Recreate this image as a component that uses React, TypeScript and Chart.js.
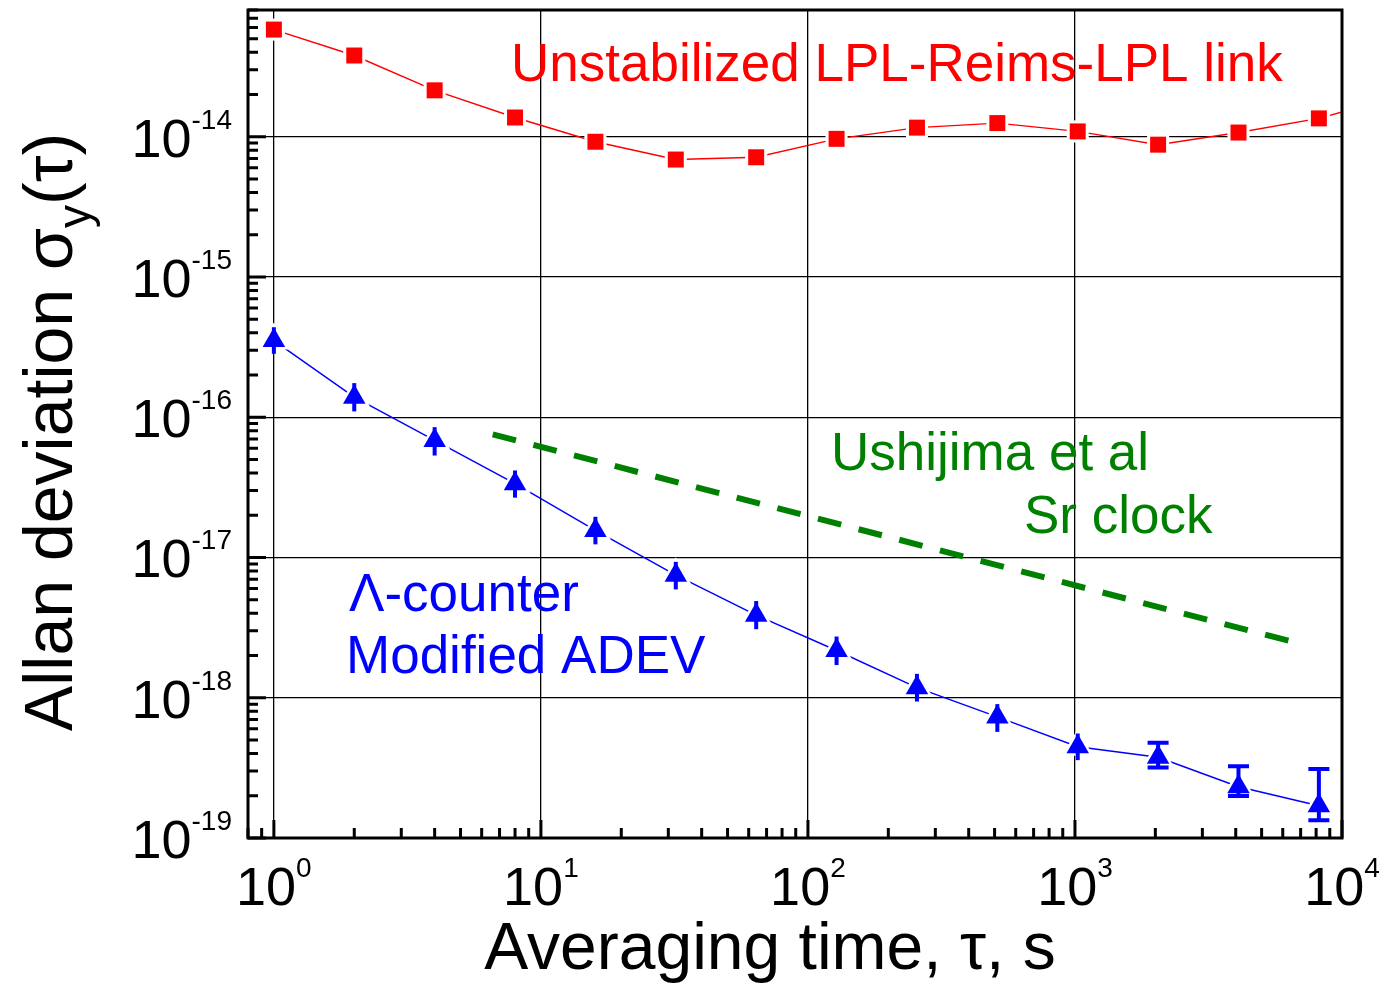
import React, { useEffect, useRef } from 'react';
import { Chart, registerables } from 'chart.js';

Chart.register(...registerables);

// ---- data ----
const tauBlue = [1, 2, 4, 8, 16, 32, 64, 128, 256, 512, 1024, 2048, 4096, 8192];
const tauRed = [1, 2, 4, 8, 16, 32, 64, 128, 256, 512, 1024, 2048, 4096, 8192, 16384];
const redAdev = [5.8e-14, 3.79e-14, 2.14e-14, 1.37e-14, 9.2e-15, 6.87e-15, 7.13e-15, 9.65e-15, 1.16e-14, 1.25e-14, 1.09e-14, 8.77e-15, 1.07e-14, 1.35e-14, 1.95e-14];
const blueMdev = [3.52e-16, 1.39e-16, 6.83e-17, 3.36e-17, 1.56e-17, 7.48e-18, 3.88e-18, 2.17e-18, 1.18e-18, 7.3e-19, 4.47e-19, 3.76e-19, 2.32e-19, 1.7e-19];
const blueErrHigh = [4.38e-16, 1.75e-16, 8.49e-17, 4.17e-17, 1.95e-17, 9.3e-18, 4.89e-18, 2.73e-18, 1.48e-18, 9.0e-19, 5.56e-19, 4.77e-19, 3.25e-19, 3.1e-19];
const blueErrLow = [2.83e-16, 1.1e-16, 5.33e-17, 2.67e-17, 1.24e-17, 5.92e-18, 3.08e-18, 1.71e-18, 9.4e-19, 5.71e-19, 3.59e-19, 3.18e-19, 1.99e-19, 1.34e-19];
const blueErrCapped = [false, false, false, false, false, false, false, false, false, false, false, true, true, true];
const srTau = [6.6, 6300];
const srAdev = [7.55e-17, 2.55e-18];

const xDecades = [0, 1, 2, 3, 4];
const yDecades = [-19, -18, -17, -16, -15, -14];
const X_MIN = 0.8;
const X_MAX = 1e4;
const Y_MIN = 1e-19;
const Y_MAX = 8e-14;

const FONT = '"Liberation Sans", Arial, Helvetica, sans-serif';
const RED = '#ff0000';
const BLUE = '#0000ff';
const GREEN = '#008000';

const isDecade = (v: number) => Math.abs(Math.log10(v) - Math.round(Math.log10(v))) < 1e-6;

function logTicks(min: number, max: number) {
  const out: { value: number; major: boolean }[] = [];
  const d0 = Math.floor(Math.log10(min));
  const d1 = Math.ceil(Math.log10(max));
  for (let d = d0; d <= d1; d++) {
    for (let m = 1; m <= 9; m++) {
      const v = parseFloat((m * Math.pow(10, d)).toPrecision(6));
      if (v >= min * 0.9999 && v <= max * 1.0001) out.push({ value: v, major: m === 1 });
    }
  }
  return out;
}

function drawPow(ctx: CanvasRenderingContext2D, exp: string, x: number, y: number, align: 'right' | 'center') {
  ctx.font = `54px ${FONT}`;
  const bw = ctx.measureText('10').width;
  ctx.font = `28px ${FONT}`;
  const ew = ctx.measureText(exp).width;
  const x0 = align === 'right' ? x - bw - ew : x - (bw + ew) / 2;
  ctx.textAlign = 'left';
  ctx.textBaseline = 'alphabetic';
  ctx.font = `54px ${FONT}`;
  ctx.fillText('10', x0, y);
  ctx.font = `28px ${FONT}`;
  ctx.fillText(exp, x0 + bw, y - 28);
}

const decorPlugin = {
  id: 'decor',
  afterDatasetsDraw(chart: any) {
    const ctx: CanvasRenderingContext2D = chart.ctx;
    const xs = chart.scales.x;
    const ys = chart.scales.y;
    // error bars
    ctx.save();
    ctx.strokeStyle = BLUE;
    ctx.lineWidth = 4;
    ctx.lineCap = 'butt';
    tauBlue.forEach((t, i) => {
      const px = xs.getPixelForValue(t);
      const top = ys.getPixelForValue(blueErrHigh[i]);
      const bot = ys.getPixelForValue(blueErrLow[i]);
      ctx.beginPath();
      ctx.moveTo(px, top);
      ctx.lineTo(px, bot);
      ctx.stroke();
      if (blueErrCapped[i]) {
        ctx.beginPath();
        ctx.moveTo(px - 10.5, top);
        ctx.lineTo(px + 10.5, top);
        ctx.moveTo(px - 10.5, bot);
        ctx.lineTo(px + 10.5, bot);
        ctx.stroke();
      }
    });
    ctx.restore();
  },
  afterDraw(chart: any) {
    const ctx: CanvasRenderingContext2D = chart.ctx;
    const a = chart.chartArea;
    const xs = chart.scales.x;
    const ys = chart.scales.y;
    ctx.save();
    // frame
    ctx.strokeStyle = '#000';
    ctx.lineWidth = 3;
    ctx.strokeRect(a.left, a.top, a.right - a.left, a.bottom - a.top);
    // inward ticks
    ctx.lineWidth = 3;
    ctx.beginPath();
    ys.ticks.forEach((t: any) => {
      const py = ys.getPixelForValue(t.value);
      ctx.moveTo(a.left, py);
      ctx.lineTo(a.left + (t.major ? 18 : 10), py);
    });
    xs.ticks.forEach((t: any) => {
      const px = xs.getPixelForValue(t.value);
      ctx.moveTo(px, a.bottom);
      ctx.lineTo(px, a.bottom - (t.major ? 18 : 10));
    });
    ctx.stroke();

    // tick labels
    ctx.fillStyle = '#000';
    yDecades.forEach((d) => {
      const py = ys.getPixelForValue(Math.pow(10, d));
      drawPow(ctx, String(d), 232, py + 20, 'right');
    });
    xDecades.forEach((d) => {
      const px = xs.getPixelForValue(Math.pow(10, d));
      drawPow(ctx, String(d), px, 905, 'center');
    });

    // axis titles
    ctx.font = `66px ${FONT}`;
    ctx.textAlign = 'center';
    ctx.textBaseline = 'alphabetic';
    ctx.fillText('Averaging time, \u03c4, s', 770, 969);

    const F = 68;
    const SF = 46;
    ctx.save();
    ctx.translate(72, 432);
    ctx.rotate(-Math.PI / 2);
    ctx.textAlign = 'left';
    ctx.font = `${F}px ${FONT}`;
    const p1 = 'Allan deviation \u03c3';
    const p3 = '(\u03c4)';
    const w1 = ctx.measureText(p1).width;
    const w3 = ctx.measureText(p3).width;
    ctx.font = `${SF}px ${FONT}`;
    const w2 = ctx.measureText('y').width;
    const total = w1 + w2 + w3;
    const x0 = -total / 2;
    ctx.font = `${F}px ${FONT}`;
    ctx.fillText(p1, x0, 0);
    ctx.font = `${SF}px ${FONT}`;
    ctx.fillText('y', x0 + w1, 18);
    ctx.font = `${F}px ${FONT}`;
    ctx.fillText(p3, x0 + w1 + w2, 0);
    ctx.restore();

    // annotations
    ctx.textAlign = 'left';
    ctx.font = `53px ${FONT}`;
    ctx.fillStyle = RED;
    ctx.fillText('Unstabilized LPL-Reims-LPL link', 511, 81);
    ctx.fillStyle = GREEN;
    ctx.fillText('Ushijima et al', 831, 470);
    ctx.fillText('Sr clock', 1024, 533);
    ctx.fillStyle = BLUE;
    ctx.fillText('\u039b-counter', 349, 611);
    ctx.fillText('Modified ADEV', 346, 673);
    ctx.restore();
  },
};

export default function App() {
  const ref = useRef<HTMLCanvasElement | null>(null);
  useEffect(() => {
    if (!ref.current) return;
    const redPts = tauRed.map((t, i) => ({ x: t, y: redAdev[i] }));
    const bluePts = tauBlue.map((t, i) => ({ x: t, y: blueMdev[i] }));
    const srPts = srTau.map((t, i) => ({ x: t, y: srAdev[i] }));
    const chart = new Chart(ref.current, {
      type: 'scatter',
      data: {
        datasets: [
          { data: redPts, showLine: true, borderColor: RED, borderWidth: 1.4, pointRadius: 0, order: 8 } as any,
          { data: bluePts, showLine: true, borderColor: BLUE, borderWidth: 1.5, pointRadius: 0, order: 7 } as any,
          { data: redPts, showLine: false, pointStyle: 'rect', pointRadius: 15.6, backgroundColor: '#fff', borderWidth: 0, order: 6 } as any,
          { data: bluePts, showLine: false, pointStyle: 'triangle', pointRadius: 18, backgroundColor: '#fff', borderWidth: 0, order: 5 } as any,
          { data: srPts, showLine: true, borderColor: GREEN, borderWidth: 6, borderDash: [24, 18], pointRadius: 0, order: 4 } as any,
          { data: redPts, showLine: false, pointStyle: 'rect', pointRadius: 11.3, backgroundColor: RED, borderWidth: 0, order: 2 } as any,
          { data: bluePts, showLine: false, pointStyle: 'triangle', pointRadius: 13, backgroundColor: BLUE, borderWidth: 0, order: 1 } as any,
        ],
      },
      options: {
        responsive: false,
        animation: false,
        devicePixelRatio: 1,
        events: [],
        layout: { padding: { left: 248, right: 44, top: 10, bottom: 148 }, autoPadding: false } as any,
        plugins: { legend: { display: false }, tooltip: { enabled: false } },
        scales: {
          x: {
            type: 'logarithmic',
            min: X_MIN,
            max: X_MAX,
            bounds: 'data',
            afterBuildTicks: (s: any) => { s.ticks = logTicks(X_MIN, X_MAX); },
            afterFit: (s: any) => { s.height = 0; },
            ticks: { display: false },
            border: { display: false },
            grid: {
              drawTicks: false,
              lineWidth: 1.3,
              color: (c: any) => (c.tick && isDecade(c.tick.value) ? '#000' : 'rgba(0,0,0,0)'),
            },
          } as any,
          y: {
            type: 'logarithmic',
            min: Y_MIN,
            max: Y_MAX,
            bounds: 'data',
            afterBuildTicks: (s: any) => { s.ticks = logTicks(Y_MIN, Y_MAX); },
            afterFit: (s: any) => { s.width = 0; },
            ticks: { display: false },
            border: { display: false },
            grid: {
              drawTicks: false,
              lineWidth: 1.3,
              color: (c: any) => (c.tick && isDecade(c.tick.value) ? '#000' : 'rgba(0,0,0,0)'),
            },
          } as any,
        },
      },
      plugins: [decorPlugin],
    });
    return () => chart.destroy();
  }, []);
  return (
    <div style={{ position: 'fixed', left: 0, top: 0, width: 1386, height: 986, background: '#fff' }}>
      <canvas ref={ref} width={1386} height={986} style={{ display: 'block' }} />
    </div>
  );
}
